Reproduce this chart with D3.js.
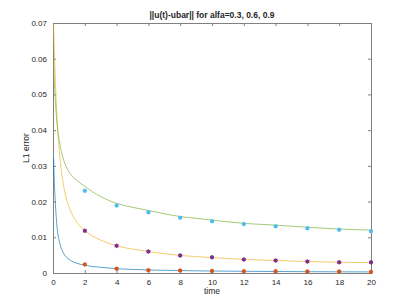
<!DOCTYPE html>
<meta charset="utf-8">
<style>
  body { margin: 0; background: #fff; }
  text { font-family: "Liberation Sans", Arial, sans-serif; fill: #262626; }
  .axis text { font-size: 8px; }
  .axis path, .axis line { stroke: #808080; }
</style>
<body>
<script src="https://d3js.org/d3.v7.min.js"></script>
<script>

const margin = {top: 23, right: 38, bottom: 34, left: 53},
    width = 409 - margin.left - margin.right,
    height = 307 - margin.top - margin.bottom;

// time grid of the continuous curves
const tLine = [0.04, 0.08, 0.15, 0.25, 0.42, 0.63, 0.84, 1.05, 1.5, 2, 2.5, 3, 4, 5, 6, 7, 8, 9, 10, 12, 14, 16, 18, 20];
const errAlfa09 = [0.032, 0.026, 0.0195, 0.013, 0.0085, 0.0058, 0.0045, 0.0037, 0.0027, 0.0022, 0.0018, 0.0016, 0.0012, 0.001, 0.00085, 0.00075, 0.00068, 0.0006, 0.00055, 0.00048, 0.00042, 0.00037, 0.00033, 0.0003];
const errAlfa06 = [0.0694, 0.063, 0.054, 0.0435, 0.033, 0.0255, 0.0208, 0.018, 0.0142, 0.0119, 0.0103, 0.0092, 0.0076, 0.0067, 0.006, 0.0054, 0.0049, 0.0046, 0.0043, 0.0038, 0.0035, 0.0032, 0.003, 0.0029];
const errAlfa03 = [0.0597, 0.054, 0.048, 0.042, 0.0365, 0.0322, 0.0297, 0.028, 0.0259, 0.0243, 0.0227, 0.0214, 0.0195, 0.0184, 0.0175, 0.0166, 0.0158, 0.0153, 0.0148, 0.0139, 0.0134, 0.0128, 0.0123, 0.012];

// sampled points
const tPts = [2, 4, 6, 8, 10, 12, 14, 16, 18, 20];
const ptsAlfa09 = [0.0024, 0.0012, 0.0008, 0.0007, 0.00056, 0.0005, 0.00047, 0.00042, 0.0004, 0.0003];
const ptsAlfa06 = [0.0118, 0.0076, 0.006, 0.0049, 0.0044, 0.0038, 0.0035, 0.0032, 0.003, 0.003];
const ptsAlfa03 = [0.023, 0.0189, 0.017, 0.0155, 0.0145, 0.0137, 0.0131, 0.0125, 0.0121, 0.0117];

const xTicks = d3.range(0, 21, 2);
const yTicks = [0, 0.01, 0.02, 0.03, 0.04, 0.05, 0.06, 0.07];

const lines = [
  {vals: errAlfa09, color: "#0072BD"},
  {vals: errAlfa06, color: "#EDB120"},
  {vals: errAlfa03, color: "#77AC30"}
];
const points = [
  {vals: ptsAlfa09, color: "#D95319"},
  {vals: ptsAlfa06, color: "#7E2F8E"},
  {vals: ptsAlfa03, color: "#4DBEEE"}
];

let x = d3.scaleLinear().domain([0, 20]).range([0, width]);
let y = d3.scaleLinear().domain([0, 0.07]).range([height, 0]);

let svg = d3.select("body").append("svg")
    .attr("width", 409)
    .attr("height", 307)
  .append("g")
    .attr("transform", `translate(${margin.left},${margin.top})`);

// axes, ticks pointing inward on all four sides
svg.append("g")
    .attr("class", "axis")
    .attr("transform", `translate(0,${height})`)
    .call(d3.axisBottom(x).tickValues(xTicks).tickSizeInner(-3).tickSizeOuter(0).tickPadding(6).tickFormat(d3.format("d")));

svg.append("g")
    .attr("class", "axis")
    .call(d3.axisTop(x).tickValues(xTicks).tickSizeInner(-3).tickSizeOuter(0).tickFormat(""));

svg.append("g")
    .attr("class", "axis")
    .call(d3.axisLeft(y).tickValues(yTicks).tickSizeInner(-3).tickSizeOuter(0).tickPadding(6)
      .tickFormat(d => d === 0 ? "0" : d3.format(".2f")(d)));

svg.append("g")
    .attr("class", "axis")
    .attr("transform", `translate(${width},0)`)
    .call(d3.axisRight(y).tickValues(yTicks).tickSizeInner(-3).tickSizeOuter(0).tickFormat(""));

let line = d3.line()
    .x((d, i) => x(tLine[i]))
    .y(d => y(d))
    .curve(d3.curveMonotoneX);

svg.selectAll(".curve")
  .data(lines)
  .join("path")
    .attr("class", "curve")
    .attr("fill", "none")
    .attr("stroke", d => d.color)
    .attr("stroke-opacity", 0.65)
    .attr("stroke-width", 1)
    .attr("d", d => line(d.vals));

let star = d3.symbol().type(d3.symbolAsterisk).size(14);

points.forEach(s => {
  let g = svg.append("g");
  g.selectAll("circle")
    .data(s.vals)
    .join("circle")
      .attr("cx", (d, i) => x(tPts[i]))
      .attr("cy", d => y(d))
      .attr("r", 2)
      .attr("fill", s.color);
  g.selectAll("path")
    .data(s.vals)
    .join("path")
      .attr("d", star)
      .attr("transform", (d, i) => `translate(${x(tPts[i])},${y(d)})`)
      .attr("fill", "none")
      .attr("stroke", s.color)
      .attr("stroke-width", 0.8);
});

// labels
svg.append("text")
    .attr("x", width / 2)
    .attr("y", -5)
    .attr("text-anchor", "middle")
    .style("font-size", "8.5px")
    .style("font-weight", "bold")
    .text("||u(t)-ubar|| for alfa=0.3, 0.6, 0.9");

svg.append("text")
    .attr("x", width / 2)
    .attr("y", height + 21)
    .attr("text-anchor", "middle")
    .style("font-size", "8.5px")
    .text("time");

svg.append("text")
    .attr("transform", `translate(-24,${height / 2}) rotate(-90)`)
    .attr("text-anchor", "middle")
    .style("font-size", "8.5px")
    .text("L1 error");

</script>
